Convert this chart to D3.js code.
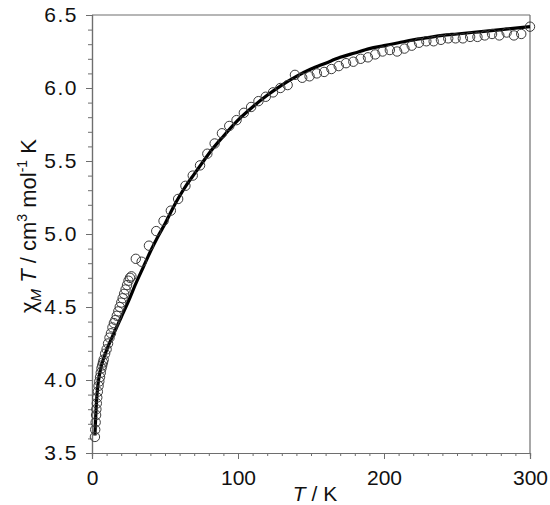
<!DOCTYPE html>
<html>
<head>
<meta charset="utf-8">
<script src="https://cdn.jsdelivr.net/npm/d3@7"></script>
<style>
  body { margin: 0; background: #fff; }
  svg { font-family: 'Liberation Sans', Arial, sans-serif; }
</style>
</head>
<body>
<svg id="chart" width="550" height="505"></svg>
<script>
// MARK: data

// measured points: temperature (K)
const measT = [
  2.0, 2.2, 2.5, 2.8, 3.0, 3.3, 3.6, 4.0, 4.5, 5.0, 5.5, 6.0, 6.5, 7.0, 7.5, 8.0, 9, 10,
  11, 12, 13, 14, 15, 16, 17, 18, 19, 20, 21, 22, 23, 24, 25, 26, 27,
  30, 34, 39, 44, 49, 54, 59, 64, 69, 74, 79, 84, 89, 94, 99, 104, 109, 114, 119, 124,
  129, 134, 139, 144, 149, 154, 159, 164, 169, 174, 179, 184, 189, 194, 199, 204, 209,
  214, 219, 224, 229, 234, 239, 244, 249, 254, 259, 264, 269, 274, 279, 284, 289, 294, 300
]
// measured points: chi_M T (cm3 mol-1 K)
const measChiT = [
  3.61, 3.66, 3.71, 3.76, 3.80, 3.84, 3.88, 3.92, 3.96, 3.99, 4.02, 4.05, 4.08, 4.10, 4.12, 4.14, 4.18, 4.21,
  4.25, 4.29, 4.32, 4.36, 4.39, 4.41, 4.44, 4.47, 4.50, 4.53, 4.56, 4.59, 4.62, 4.65, 4.68, 4.70, 4.71,
  4.83, 4.81, 4.92, 5.02, 5.09, 5.16, 5.24, 5.33, 5.40, 5.47, 5.55, 5.62, 5.69, 5.74, 5.78, 5.83, 5.87, 5.91, 5.94, 5.97,
  6.00, 6.02, 6.09, 6.07, 6.08, 6.10, 6.11, 6.13, 6.15, 6.17, 6.18, 6.20, 6.21, 6.23, 6.25, 6.26, 6.25,
  6.27, 6.29, 6.31, 6.32, 6.32, 6.33, 6.34, 6.34, 6.34, 6.35, 6.35, 6.36, 6.37, 6.36, 6.38, 6.36, 6.37, 6.42
]

// fitted curve
const fitT = [
  2, 2.5, 3, 4, 5, 6, 8, 11, 15, 20, 25, 30, 35, 40, 45, 50, 55, 60, 65, 70, 75, 80, 90,
  100, 110, 120, 130, 140, 150, 160, 170, 180, 190, 200, 210, 220, 230, 240, 250, 260, 270, 280, 290, 300
]
const fitChiT = [
  3.62, 3.74, 3.84, 3.96, 4.03, 4.08, 4.15, 4.23, 4.32, 4.43, 4.54, 4.66, 4.77, 4.88, 4.98, 5.07, 5.17, 5.26, 5.34, 5.41, 5.48, 5.55, 5.67,
  5.78, 5.87, 5.95, 6.02, 6.08, 6.13, 6.17, 6.21, 6.24, 6.27, 6.29, 6.31, 6.33, 6.345, 6.36, 6.37, 6.38, 6.39, 6.40, 6.41, 6.42
]

const xTickValues = [0, 100, 200, 300]
const yTickValues = [3.5, 4.0, 4.5, 5.0, 5.5, 6.0, 6.5]

// MARK: layout

const svg    = d3.select('#chart')
const margin = { top: 15, right: 20, bottom: 52, left: 92 }
const width  = 550 - margin.left - margin.right
const height = 505 - margin.top - margin.bottom
const AXIS_COLOR = '#6e6e6e'

const x = d3.scaleLinear().domain([0, 300]).range([0, width])
const y = d3.scaleLinear().domain([3.5, 6.5]).range([height, 0])

const g = svg.append('g').attr('transform', `translate(${margin.left},${margin.top})`)

// frame on top and right
g.append('line')
  .attr('x1', 0).attr('x2', width).attr('y1', 0).attr('y2', 0)
  .attr('stroke', AXIS_COLOR).attr('stroke-width', 1.2)
g.append('line')
  .attr('x1', width).attr('x2', width).attr('y1', 0).attr('y2', height)
  .attr('stroke', AXIS_COLOR).attr('stroke-width', 1.2)

// minor ticks first, then major axes with labels
const xMinor = g.append('g')
  .attr('transform', `translate(0,${height})`)
  .call(d3.axisBottom(x).tickValues(d3.range(0, 301, 10)).tickSize(3).tickFormat(''))
const yMinor = g.append('g')
  .call(d3.axisLeft(y).tickValues(d3.range(35, 66, 1).map((v) => v / 10)).tickSize(4).tickFormat(''))

const xAxis = g.append('g')
  .attr('transform', `translate(0,${height})`)
  .call(d3.axisBottom(x).tickValues(xTickValues).tickSize(6).tickPadding(11).tickFormat(d3.format('d')))
const yAxis = g.append('g')
  .call(d3.axisLeft(y).tickValues(yTickValues).tickSize(6).tickPadding(8).tickFormat(d3.format('.1f')))

for (const ax of [xMinor, yMinor, xAxis, yAxis]) {
  ax.select('.domain').attr('stroke', AXIS_COLOR).attr('stroke-width', 1.2)
  ax.selectAll('.tick line').attr('stroke', AXIS_COLOR).attr('stroke-width', 1)
}
xAxis.selectAll('.tick text').attr('font-size', 21).attr('fill', '#111')
yAxis.selectAll('.tick text').attr('font-size', 21).attr('letter-spacing', 1.5).attr('fill', '#111')

// axis titles
svg.append('text')
  .attr('x', margin.left + width / 2 + 4)
  .attr('y', 501)
  .attr('text-anchor', 'middle')
  .attr('font-size', 21)
  .attr('fill', '#111')
  .html('<tspan font-style="italic">T</tspan> / K')

svg.append('text')
  .attr('transform', `translate(36,${margin.top + 211}) rotate(-90)`)
  .attr('text-anchor', 'middle')
  .attr('font-size', 22)
  .attr('fill', '#111')
  .html('χ<tspan font-style="italic" font-size="15" dy="5">M</tspan>'
      + '<tspan font-style="italic" dy="-5"> T</tspan> / cm<tspan font-size="14" dy="-9">3</tspan>'
      + '<tspan dy="9"> mol</tspan><tspan font-size="14" dy="-9">-1</tspan><tspan dy="9"> K</tspan>')

// fit line
const fitData = fitT.map((t, i) => ({ t, v: fitChiT[i] }))
g.append('path')
  .datum(fitData)
  .attr('fill', 'none')
  .attr('stroke', '#000')
  .attr('stroke-width', 3.2)
  .attr('d', d3.line().x((d) => x(d.t)).y((d) => y(d.v)).curve(d3.curveMonotoneX))

// measured points, open circles
const measData = measT.map((t, i) => ({ t, v: measChiT[i] }))
g.append('g').selectAll('circle')
  .data(measData).enter()
  .append('circle')
  .attr('cx', (d) => x(d.t))
  .attr('cy', (d) => y(d.v))
  .attr('r', 4.7)
  .attr('fill', 'none')
  .attr('stroke', '#3a3a3a')
  .attr('stroke-width', 1)
</script>
</body>
</html>
